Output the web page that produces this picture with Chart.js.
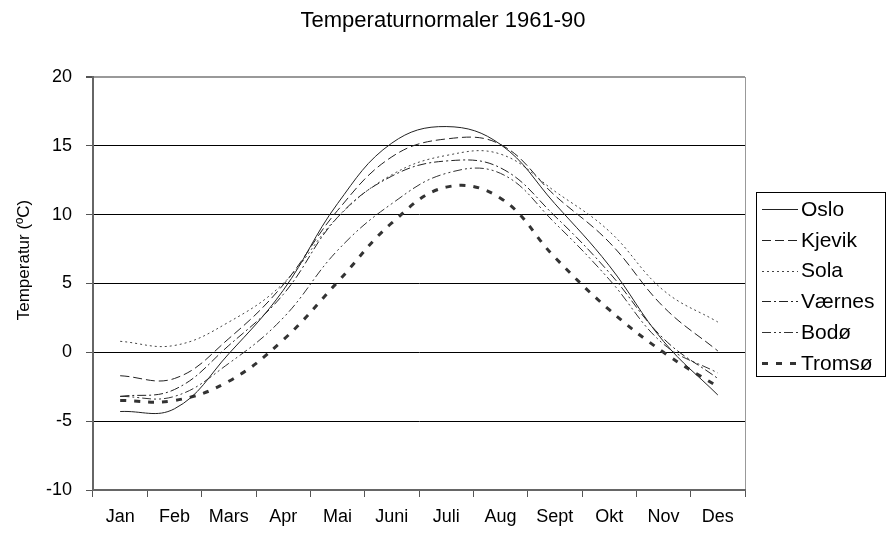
<!DOCTYPE html>
<html>
<head>
<meta charset="utf-8">
<title>Temperaturnormaler 1961-90</title>
<script src="https://cdn.jsdelivr.net/npm/chart.js@4.4.1/dist/chart.umd.min.js"></script>
<style>
	body { margin: 0; background: #fff; }
	#wrap { width: 886px; height: 533px; }
</style>
</head>
<body>
<div id="wrap"><canvas id="myChart" width="886" height="533"></canvas></div>
<script>
var months = ['Jan', 'Feb', 'Mars', 'Apr', 'Mai', 'Juni', 'Juli', 'Aug', 'Sept', 'Okt', 'Nov', 'Des'];
var yTicks = [-10, -5, 0, 5, 10, 15, 20];

var oslo    = [-4.3, -4.1, -0.1, 4.5, 10.8, 15.2, 16.4, 15.1, 10.8, 6.3, 0.8, -3.1];
var kjevik  = [-1.7, -1.9,  1.0, 4.9, 10.3, 14.2, 15.5, 15.1, 11.4, 8.0, 3.3,  0.1];
var sola    = [ 0.8,  0.5,  2.2, 5.0,  9.8, 12.9, 14.3, 14.4, 11.7, 8.8, 4.5,  2.2];
var vaernes = [-3.2, -2.7,  0.5, 4.2,  9.8, 12.8, 13.9, 13.4,  9.9, 5.8, 1.0, -1.9];
var bodo    = [-3.2, -3.2, -0.8, 2.5,  7.4, 10.8, 13.0, 13.0,  9.4, 5.3, 0.6, -1.5];
var tromso  = [-3.5, -3.5, -2.1, 0.9,  5.1,  9.4, 12.0, 11.2,  6.9, 3.1, 0.0, -2.5];

var font = 'Arial, "Liberation Sans", sans-serif';

function line(label, data, dash, width, color) {
	return {
		label: label,
		data: data,
		borderColor: color,
		borderWidth: width,
		borderDash: dash,
		pointRadius: 0,
		fill: false,
		tension: 0.4
	};
}

// legend box at the right and the y axis title, placed like the old spreadsheet chart
var extras = {
	id: 'extras',
	afterDraw: function(chart) {
		var ctx = chart.ctx;
		var area = chart.chartArea;
		var x0 = area.right + 11, y0 = area.top + 115;
		ctx.save();
		ctx.strokeStyle = '#000';
		ctx.lineWidth = 1;
		ctx.strokeRect(x0 + 0.5, y0 + 0.5, 129, 184);
		ctx.font = '21px ' + font;
		ctx.textBaseline = 'middle';
		ctx.fillStyle = '#000';
		chart.data.datasets.forEach(function(ds, i) {
			var y = y0 + 17 + i * 30.8;
			ctx.beginPath();
			ctx.strokeStyle = ds.borderColor;
			ctx.lineWidth = ds.borderWidth;
			ctx.setLineDash(ds.borderDash);
			ctx.moveTo(x0 + 6, Math.round(y) + 0.5);
			ctx.lineTo(x0 + 42, Math.round(y) + 0.5);
			ctx.stroke();
			ctx.setLineDash([]);
			ctx.fillText(ds.label, x0 + 45, y + 1);
		});

		ctx.translate(24, area.top + 183);
		ctx.rotate(-Math.PI / 2);
		ctx.font = '17px ' + font;
		ctx.textAlign = 'center';
		ctx.fillText('Temperatur (ºC)', 0, 0);
		ctx.restore();
	}
};

var ctx = document.getElementById('myChart').getContext('2d');
var chart = new Chart(ctx, {
	type: 'line',
	data: {
		labels: months,
		datasets: [
			line('Oslo', oslo, [], 1, '#222'),
			line('Kjevik', kjevik, [9, 4], 1, '#222'),
			line('Sola', sola, [2, 3], 1, '#444'),
			line('Værnes', vaernes, [9, 3, 2, 3], 1, '#222'),
			line('Bodø', bodo, [9, 3, 2, 3, 2, 3], 1, '#333'),
			line('Tromsø', tromso, [6, 8], 3, '#333')
		]
	},
	options: {
		responsive: false,
		animation: false,
		layout: { padding: 0 },
		plugins: {
			legend: { display: false },
			tooltip: { enabled: false },
			title: {
				display: true,
				text: 'Temperaturnormaler 1961-90',
				color: '#000',
				font: { family: font, size: 22, weight: 'normal' },
				padding: { top: 8, bottom: 42.6 }
			}
		},
		scales: {
			x: {
				type: 'category',
				offset: true,
				grid: {
					offset: true,
					color: function(c) { return c.tick ? 'rgba(0,0,0,0)' : '#999'; },
					tickColor: '#555',
					tickLength: 7,
					lineWidth: 1
				},
				border: { color: '#666', width: 2 },
				ticks: { color: '#000', font: { family: font, size: 18 }, padding: 9, maxRotation: 0, autoSkip: false },
				afterFit: function(s) { s.height = 43; }
			},
			y: {
				min: yTicks[0],
				max: yTicks[yTicks.length - 1],
				afterBuildTicks: function(s) { s.ticks = yTicks.map(function(v) { return { value: v }; }); },
				grid: {
					color: function(c) { return c.tick && c.tick.value === 20 ? '#999' : '#000'; },
					tickColor: '#555',
					tickLength: 7,
					lineWidth: function(c) { return c.tick && c.tick.value === 20 ? 2 : 1; }
				},
				border: { color: '#666', width: 2 },
				ticks: { color: '#000', font: { family: font, size: 18 }, padding: 14 },
				afterFit: function(s) { s.width = 93; }
			},
			legendSpace: {
				type: 'linear',
				position: 'right',
				display: true,
				grid: { display: false },
				border: { display: false },
				ticks: { display: false },
				afterFit: function(s) { s.width = 141; }
			}
		}
	},
	plugins: [extras]
});
</script>
</body>
</html>
